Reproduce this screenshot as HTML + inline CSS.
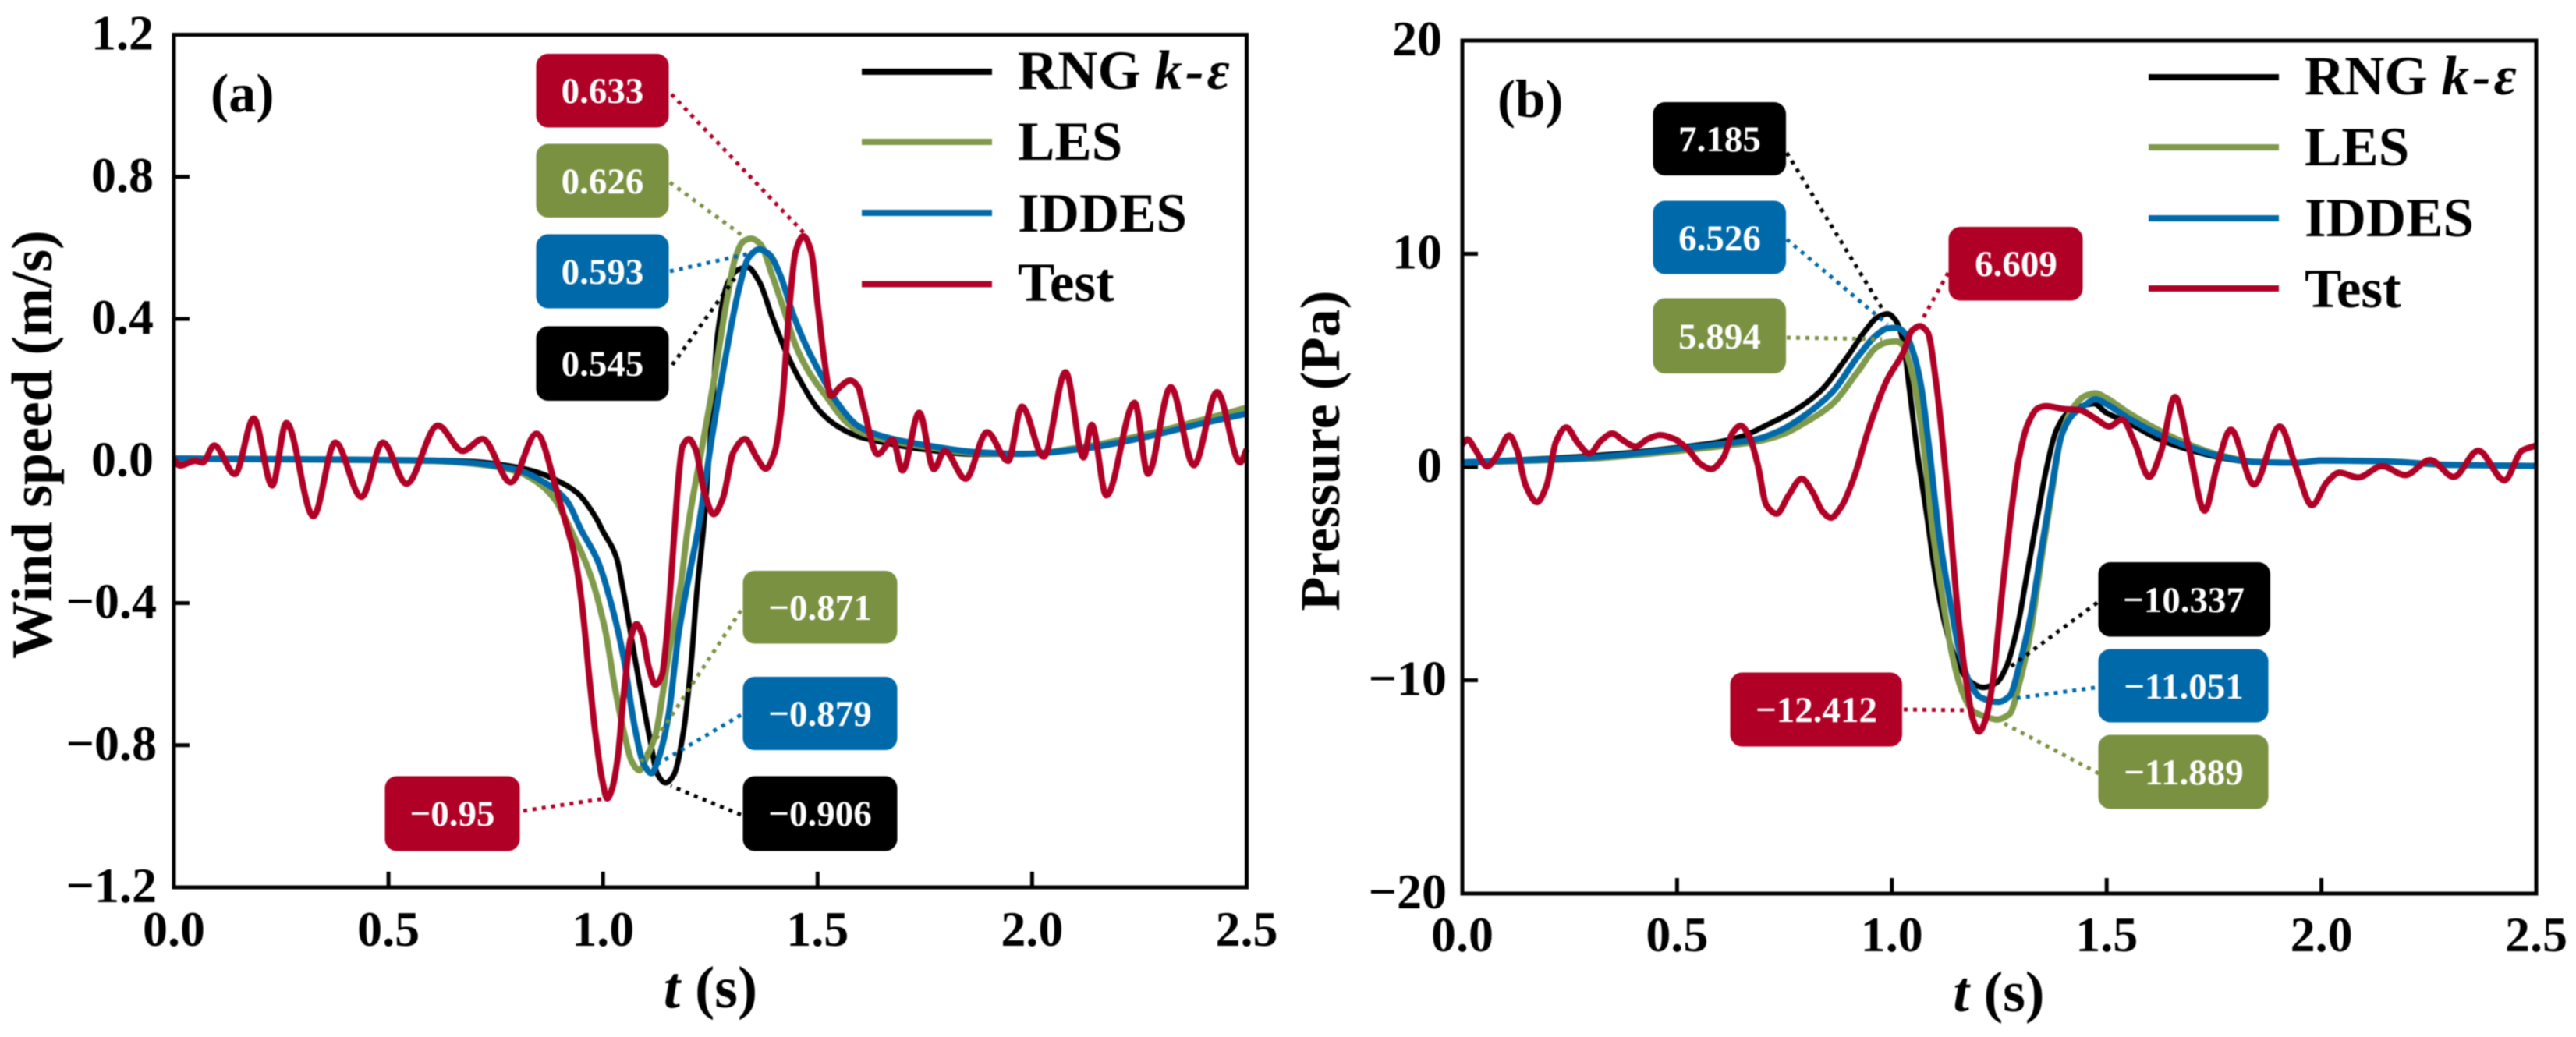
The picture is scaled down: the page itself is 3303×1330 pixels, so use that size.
<!DOCTYPE html>
<html lang="en">
<head>
<meta charset="utf-8">
<title>Wind speed and pressure time histories</title>
<style>
html,body{margin:0;padding:0;background:#fff;}
svg{display:block;filter:blur(0.8px);}
text{font-family:"Liberation Serif","DejaVu Serif",serif;font-weight:bold;fill:#000;}
.ann{font-size:47px;fill:#fff;text-anchor:middle;}
.lead{fill:none;stroke-width:5;stroke-dasharray:5 7;}
.leg{font-size:71px;}
.black{fill:#000;stroke:#000;}
.green{fill:#7b9142;stroke:#7b9142;}
.blue{fill:#0069aa;stroke:#0069aa;}
.red{fill:#b10026;stroke:#b10026;}
</style>
</head>
<body>
<svg id="fig" width="3303" height="1330" viewBox="0 0 3303 1330" xmlns="http://www.w3.org/2000/svg">
<rect width="3303" height="1330" fill="#fff"/>
<g id="panelA"></g>
<g id="panelB"></g>

<!-- panel a overlay -->
<g>
<text x="270" y="143" font-size="70">(a)</text>
<text transform="translate(66,570) rotate(-90)" text-anchor="middle" font-size="74">Wind speed (m/s)</text>
<text x="911" y="1292" text-anchor="middle" font-size="76"><tspan font-style="italic">t</tspan> (s)</text>

<g>
<line x1="1105" x2="1272" y1="92" y2="92" stroke="#000" stroke-width="8"/>
<text class="leg" x="1305" y="114">RNG <tspan font-style="italic" letter-spacing="4">k-ε</tspan></text>
<line x1="1105" x2="1272" y1="182" y2="182" stroke="#7f9a4a" stroke-width="8"/>
<text class="leg" x="1305" y="205">LES</text>
<line x1="1105" x2="1272" y1="273" y2="273" stroke="#0069aa" stroke-width="8"/>
<text class="leg" x="1305" y="297">IDDES</text>
<line x1="1105" x2="1272" y1="364.5" y2="364.5" stroke="#b10026" stroke-width="8"/>
<text class="leg" x="1305" y="386">Test</text>
</g>

<line class="lead red" x1="861" y1="121" x2="1030" y2="298"/>
<line class="lead green" x1="859" y1="234" x2="953" y2="303"/>
<line class="lead blue" x1="859" y1="348" x2="962" y2="325"/>
<line class="lead black" x1="862" y1="468" x2="942" y2="357"/>
<line class="lead green" x1="950" y1="783" x2="822" y2="977"/>
<line class="lead blue" x1="950" y1="917" x2="843" y2="980"/>
<line class="lead black" x1="950" y1="1045" x2="860" y2="1008"/>
<line class="lead red" x1="671" y1="1040" x2="776" y2="1024"/>

<g><rect class="red" x="688" y="69.5" width="169" height="93.5" rx="15"/><text class="ann" x="772.5" y="132">0.633</text></g>
<g><rect class="green" x="688" y="185" width="169" height="93.5" rx="15"/><text class="ann" x="772.5" y="248">0.626</text></g>
<g><rect class="blue" x="688" y="301" width="169" height="94" rx="15"/><text class="ann" x="772.5" y="364">0.593</text></g>
<g><rect class="black" x="688" y="419" width="169" height="94.5" rx="15"/><text class="ann" x="772.5" y="482">0.545</text></g>
<g><rect class="green" x="953" y="732.5" width="197" height="92.5" rx="15"/><text class="ann" x="1051.5" y="795">−0.871</text></g>
<g><rect class="blue" x="953" y="868.5" width="197" height="93" rx="15"/><text class="ann" x="1051.5" y="931">−0.879</text></g>
<g><rect class="black" x="953" y="996" width="197" height="95" rx="15"/><text class="ann" x="1051.5" y="1059">−0.906</text></g>
<g><rect class="red" x="494" y="996" width="172" height="95" rx="15"/><text class="ann" x="580" y="1059">−0.95</text></g>
</g>

<!-- panel b overlay -->
<g>
<text x="1920" y="150" font-size="69">(b)</text>
<text transform="translate(1717,578) rotate(-90)" text-anchor="middle" font-size="72">Pressure (Pa)</text>
<text x="2563" y="1297" text-anchor="middle" font-size="74"><tspan font-style="italic">t</tspan> (s)</text>

<g>
<line x1="2755" x2="2922" y1="99" y2="99" stroke="#000" stroke-width="8"/>
<text class="leg" x="2955" y="121">RNG <tspan font-style="italic" letter-spacing="4">k-ε</tspan></text>
<line x1="2755" x2="2922" y1="189" y2="189" stroke="#7f9a4a" stroke-width="8"/>
<text class="leg" x="2955" y="212">LES</text>
<line x1="2755" x2="2922" y1="280" y2="280" stroke="#0069aa" stroke-width="8"/>
<text class="leg" x="2955" y="303">IDDES</text>
<line x1="2755" x2="2922" y1="370" y2="370" stroke="#b10026" stroke-width="8"/>
<text class="leg" x="2955" y="394">Test</text>
</g>

<line class="lead black" x1="2291" y1="196" x2="2414" y2="397"/>
<line class="lead blue" x1="2291" y1="307" x2="2420" y2="416"/>
<line class="lead green" x1="2291" y1="433" x2="2413" y2="435"/>
<line class="lead red" x1="2498" y1="350" x2="2463" y2="413"/>
<line class="lead black" x1="2689" y1="773" x2="2578" y2="855"/>
<line class="lead blue" x1="2686" y1="882" x2="2581" y2="896"/>
<line class="lead green" x1="2691" y1="992" x2="2570" y2="928"/>
<line class="lead red" x1="2441" y1="910" x2="2524" y2="911"/>

<g><rect class="black" x="2120" y="131.5" width="169.5" height="93" rx="15"/><text class="ann" x="2205" y="194">7.185</text></g>
<g><rect class="blue" x="2120" y="258" width="169.5" height="93" rx="15"/><text class="ann" x="2205" y="321">6.526</text></g>
<g><rect class="green" x="2120" y="383" width="169.5" height="95.5" rx="15"/><text class="ann" x="2205" y="447">5.894</text></g>
<g><rect class="red" x="2499" y="291.5" width="171" height="93.5" rx="15"/><text class="ann" x="2585" y="354">6.609</text></g>
<g><rect class="black" x="2691" y="721.5" width="219.5" height="94.5" rx="15"/><text class="ann" x="2800" y="785">−10.337</text></g>
<g><rect class="blue" x="2691" y="833" width="217" height="93" rx="15"/><text class="ann" x="2800" y="896">−11.051</text></g>
<g><rect class="green" x="2691" y="943" width="217" height="94" rx="15"/><text class="ann" x="2800" y="1006">−11.889</text></g>
<g><rect class="red" x="2219" y="863" width="219.5" height="94" rx="15"/><text class="ann" x="2329" y="926">−12.412</text></g>
</g>
</svg>

<script>
// ---------- shared axis values ----------
var xTickValues = [0, 0.5, 1, 1.5, 2, 2.5];
var xTickLabels = ["0.0", "0.5", "1.0", "1.5", "2.0", "2.5"];

// ---------- panel (a) axis values ----------
var speedTickValues = [1.2, 0.8, 0.4, 0, -0.4, -0.8, -1.2];
var speedTickLabels = ["1.2", "0.8", "0.4", "0.0", "−0.4", "−0.8", "−1.2"];

// ---------- panel (a) series: wind speed ----------
var rngTimeA = [0,0.3,0.6,0.7,0.8,0.85,0.893,0.94,0.986,0.998,1.031,1.049,1.073,1.109,1.127,1.146,1.164,1.188,1.206,1.218,1.234,1.252,1.267,1.291,1.313,1.336,1.364,1.394,1.425,1.461,1.504,1.546,1.595,1.624,1.745,1.866,1.976,2.116,2.255,2.394,2.5];
var rngSpeedA = [0.008,0.005,0.002,-0.002,-0.018,-0.033,-0.055,-0.09,-0.165,-0.194,-0.271,-0.377,-0.546,-0.78,-0.882,-0.906,-0.886,-0.758,-0.56,-0.377,-0.19,0.098,0.355,0.502,0.537,0.546,0.505,0.406,0.311,0.223,0.142,0.098,0.069,0.06,0.033,0.019,0.019,0.033,0.065,0.106,0.144];

var lesTimeA = [0,0.3,0.6,0.7,0.8,0.847,0.889,0.907,0.925,0.97,1.007,1.027,1.049,1.067,1.085,1.1,1.122,1.152,1.182,1.197,1.231,1.261,1.285,1.309,1.327,1.345,1.367,1.394,1.425,1.449,1.479,1.522,1.564,1.595,1.65,1.75,1.87,1.98,2.12,2.255,2.394,2.5];
var lesSpeedA = [0.006,0.004,0,-0.008,-0.03,-0.06,-0.11,-0.15,-0.194,-0.319,-0.487,-0.633,-0.765,-0.846,-0.871,-0.838,-0.772,-0.552,-0.341,-0.194,0.04,0.245,0.428,0.574,0.618,0.626,0.61,0.523,0.413,0.325,0.252,0.179,0.113,0.084,0.062,0.04,0.022,0.02,0.04,0.072,0.115,0.15];

var iddesTimeA = [0,0.3,0.6,0.7,0.8,0.867,0.916,0.949,0.988,1.025,1.049,1.073,1.095,1.113,1.127,1.152,1.176,1.2,1.222,1.255,1.285,1.316,1.34,1.364,1.388,1.413,1.443,1.473,1.51,1.546,1.595,1.65,1.75,1.87,1.98,2.12,2.255,2.394,2.5];
var iddesSpeedA = [0.007,0.005,0.001,-0.006,-0.025,-0.063,-0.113,-0.194,-0.282,-0.429,-0.56,-0.743,-0.853,-0.879,-0.846,-0.721,-0.487,-0.326,-0.19,0.076,0.289,0.48,0.574,0.596,0.581,0.523,0.413,0.325,0.238,0.164,0.098,0.07,0.045,0.025,0.02,0.035,0.065,0.105,0.133];

var testTimeA = [0,0.014,0.049,0.067,0.094,0.142,0.186,0.229,0.262,0.325,0.376,0.437,0.487,0.542,0.615,0.673,0.719,0.785,0.845,0.893,0.907,0.918,0.934,0.952,0.967,0.982,0.998,1.01,1.022,1.034,1.049,1.064,1.078,1.091,1.107,1.122,1.137,1.149,1.158,1.167,1.176,1.185,1.2,1.216,1.237,1.258,1.279,1.304,1.331,1.358,1.379,1.4,1.418,1.434,1.449,1.467,1.485,1.5,1.516,1.531,1.552,1.576,1.595,1.605,1.64,1.675,1.698,1.737,1.771,1.796,1.845,1.895,1.944,1.976,2.027,2.078,2.12,2.139,2.173,2.239,2.27,2.323,2.377,2.431,2.485,2.5];
var testSpeedA = [0.004,-0.013,0,-0.004,0.044,-0.037,0.12,-0.069,0.107,-0.155,0.052,-0.101,0.052,-0.064,0.1,0.028,0.062,-0.06,0.077,-0.087,-0.148,-0.194,-0.267,-0.414,-0.596,-0.765,-0.897,-0.95,-0.919,-0.838,-0.648,-0.502,-0.459,-0.487,-0.582,-0.63,-0.604,-0.487,-0.341,-0.19,-0.048,0.04,0.062,0.032,-0.092,-0.15,-0.106,0.025,0.062,0.01,-0.022,0.025,0.172,0.428,0.59,0.633,0.59,0.442,0.282,0.183,0.208,0.227,0.208,0.162,0.019,0.06,-0.027,0.136,-0.023,0.028,-0.05,0.081,0,0.153,0.012,0.25,0.01,0.102,-0.097,0.164,-0.036,0.208,-0.012,0.194,-0.004,0.033];

// ---------- panel (b) axis values ----------
var pressureTickValues = [20, 10, 0, -10, -20];
var pressureTickLabels = ["20", "10", "0", "−10", "−20"];

// ---------- panel (b) series: pressure ----------
var rngTimeB = [0,0.2,0.35,0.517,0.59,0.65,0.711,0.772,0.832,0.893,0.941,0.965,0.99,1.008,1.026,1.04,1.059,1.08,1.104,1.129,1.153,1.177,1.213,1.244,1.267,1.292,1.316,1.34,1.358,1.383,1.407,1.437,1.471,1.498,1.55,1.619,1.687,1.765,1.843,1.94,1.999,2.14,2.3,2.5];
var rngPressureB = [0.22,0.4,0.6,0.95,1.15,1.43,1.99,2.63,3.53,5.08,6.47,7.0,7.185,6.9,5.92,3.8,0.73,-2.07,-5.41,-7.81,-9.2,-9.97,-10.337,-10.11,-9.34,-7.53,-4.86,-2.19,-0.25,1.72,2.49,2.83,2.97,2.56,2.08,1.33,0.84,0.44,0.22,0.19,0.33,0.27,0.11,0.07];

var lesTimeB = [0,0.3,0.5,0.59,0.681,0.741,0.802,0.862,0.922,0.965,0.989,1.011,1.026,1.04,1.056,1.074,1.092,1.117,1.14,1.165,1.189,1.22,1.244,1.274,1.298,1.322,1.347,1.371,1.394,1.419,1.449,1.474,1.498,1.55,1.619,1.687,1.765,1.843,1.94,2,2.14,2.3,2.5];
var lesPressureB = [0.2,0.4,0.75,0.95,1.18,1.5,2.13,2.97,4.51,5.63,5.85,5.894,5.7,4.94,3.53,1.02,-2.49,-5.99,-8.78,-10.6,-11.44,-11.72,-11.84,-11.58,-10.04,-7.81,-4.45,-1.37,1.43,2.69,3.33,3.46,3.25,2.55,1.75,1.1,0.55,0.25,0.2,0.3,0.27,0.1,0.05];

var iddesTimeB = [0,0.3,0.5,0.59,0.681,0.741,0.802,0.862,0.922,0.965,0.989,1.011,1.031,1.05,1.068,1.086,1.11,1.135,1.159,1.183,1.207,1.247,1.274,1.298,1.322,1.347,1.371,1.394,1.419,1.449,1.474,1.498,1.55,1.619,1.687,1.765,1.843,1.94,2,2.14,2.3,2.5];
var iddesPressureB = [0.22,0.45,0.85,1.05,1.29,1.72,2.49,3.53,5.21,6.2,6.5,6.526,6.26,5.35,3.81,1.02,-3.18,-6.25,-8.78,-10.18,-10.81,-11.02,-10.74,-9.2,-7.09,-4.02,-1.09,1.43,2.41,2.9,3.18,2.97,2.3,1.55,0.98,0.5,0.24,0.2,0.3,0.27,0.1,0.05];

var testTimeB = [0,0.012,0.03,0.058,0.082,0.109,0.127,0.148,0.174,0.196,0.218,0.242,0.269,0.296,0.323,0.349,0.375,0.403,0.432,0.46,0.493,0.523,0.554,0.579,0.608,0.629,0.648,0.668,0.687,0.708,0.732,0.759,0.79,0.817,0.838,0.858,0.88,0.911,0.947,0.989,1.026,1.047,1.065,1.083,1.104,1.129,1.153,1.174,1.189,1.203,1.218,1.235,1.256,1.28,1.295,1.316,1.34,1.358,1.401,1.437,1.474,1.506,1.536,1.565,1.599,1.626,1.659,1.692,1.728,1.757,1.789,1.843,1.903,1.94,1.978,2.013,2.042,2.085,2.141,2.195,2.253,2.308,2.365,2.426,2.467,2.5];
var testPressureB = [1.06,1.3,0.82,0.03,0.58,1.49,0.82,-0.88,-1.65,-0.88,1.18,1.86,1.13,0.63,1.24,1.57,1.24,0.96,1.32,1.5,1.32,0.88,0.15,-0.1,0.45,1.6,1.94,1.43,0.18,-1.79,-2.19,-1.35,-0.55,-1.23,-2.07,-2.38,-1.93,-0.53,1.86,4.09,5.35,6.4,6.609,6.33,3.81,-1.09,-6.68,-10.18,-11.86,-12.412,-11.86,-10.04,-5.99,-1.79,0.31,1.99,2.76,2.86,2.72,2.67,2.27,1.9,2.23,1.17,-0.46,0.69,3.29,0.84,-2.05,0.04,1.75,-0.82,1.9,0.04,-1.79,-0.7,-0.26,-0.49,0.04,-0.38,0.33,-0.46,0.77,-0.62,0.77,1.01];

// ---------- helpers ----------
var SVGNS = "http://www.w3.org/2000/svg";

function linearScale(d0, d1, r0, r1) {
  return function (v) { return r0 + (v - d0) * (r1 - r0) / (d1 - d0); };
}

function monotonePath(px, py) {
  var n = px.length, i, dx = [], m = [], t = [];
  for (i = 0; i < n - 1; i++) {
    dx[i] = px[i + 1] - px[i];
    m[i] = (py[i + 1] - py[i]) / dx[i];
  }
  t[0] = m[0];
  t[n - 1] = m[n - 2];
  for (i = 1; i < n - 1; i++) {
    if (m[i - 1] * m[i] <= 0) {
      t[i] = 0;
    } else {
      var w1 = 2 * dx[i] + dx[i - 1], w2 = dx[i] + 2 * dx[i - 1];
      t[i] = (w1 + w2) / (w1 / m[i - 1] + w2 / m[i]);
    }
  }
  var d = "M" + px[0].toFixed(2) + " " + py[0].toFixed(2);
  for (i = 0; i < n - 1; i++) {
    var h = dx[i] / 3;
    d += "C" + (px[i] + h).toFixed(2) + " " + (py[i] + t[i] * h).toFixed(2) + " " +
         (px[i + 1] - h).toFixed(2) + " " + (py[i + 1] - t[i + 1] * h).toFixed(2) + " " +
         px[i + 1].toFixed(2) + " " + py[i + 1].toFixed(2);
  }
  return d;
}

function drawPanel(root, box, xVals, xLabels, yVals, yLabels, yMin, yMax, series, suffix) {
  var xScale = linearScale(0, 2.5, box.left, box.right);
  var yScale = linearScale(yMin, yMax, box.bottom, box.top);
  var i, el;

  for (i = 0; i < xVals.length; i++) {
    el = document.createElementNS(SVGNS, "line");
    el.setAttribute("x1", xScale(xVals[i]));
    el.setAttribute("x2", xScale(xVals[i]));
    el.setAttribute("y1", box.bottom);
    el.setAttribute("y2", box.bottom - 20);
    el.setAttribute("stroke", "#000");
    el.setAttribute("stroke-width", 5);
    
    
    root.appendChild(el);

    el = document.createElementNS(SVGNS, "text");
    el.setAttribute("x", xScale(xVals[i]));
    el.setAttribute("y", box.xLabelY);
    el.setAttribute("text-anchor", "middle");
    el.setAttribute("font-size", 64);
    el.textContent = xLabels[i];
    
    
    root.appendChild(el);
  }

  for (i = 0; i < yVals.length; i++) {
    el = document.createElementNS(SVGNS, "line");
    el.setAttribute("x1", box.left);
    el.setAttribute("x2", box.left + 20);
    el.setAttribute("y1", yScale(yVals[i]));
    el.setAttribute("y2", yScale(yVals[i]));
    el.setAttribute("stroke", "#000");
    el.setAttribute("stroke-width", 5);
    
    
    root.appendChild(el);

    el = document.createElementNS(SVGNS, "text");
    el.setAttribute("x", yVals[i] < 0 ? box.yLabelXNeg : box.yLabelX);
    el.setAttribute("y", yScale(yVals[i]) + 19);
    el.setAttribute("text-anchor", "end");
    el.setAttribute("font-size", 64);
    el.textContent = yLabels[i];
    
    
    root.appendChild(el);
  }

  for (i = 0; i < series.length; i++) {
    var s = series[i];
    var px = s.t.map(xScale);
    var py = s.v.map(yScale);
    el = document.createElementNS(SVGNS, "path");
    el.setAttribute("d", monotonePath(px, py));
    el.setAttribute("fill", "none");
    el.setAttribute("stroke", s.color);
    el.setAttribute("stroke-width", s.width);
    el.setAttribute("stroke-linejoin", "round");
    
    
    root.appendChild(el);
  }

  el = document.createElementNS(SVGNS, "rect");
  el.setAttribute("x", box.left);
  el.setAttribute("y", box.top);
  el.setAttribute("width", box.right - box.left);
  el.setAttribute("height", box.bottom - box.top);
  el.setAttribute("fill", "none");
  el.setAttribute("stroke", "#000");
  el.setAttribute("stroke-width", 5);
  
  
  root.appendChild(el);
}

drawPanel(
  document.getElementById("panelA"),
  { left: 223, right: 1598.5, top: 44.5, bottom: 1138, xLabelY: 1213, yLabelX: 197, yLabelXNeg: 201 },
  xTickValues, xTickLabels, speedTickValues, speedTickLabels, -1.2, 1.2,
  [
    { name: "rng", t: rngTimeA, v: rngSpeedA, color: "#000000", width: 7 },
    { name: "les", t: lesTimeA, v: lesSpeedA, color: "#7f9a4a", width: 8 },
    { name: "iddes", t: iddesTimeA, v: iddesSpeedA, color: "#0069aa", width: 8 },
    { name: "test", t: testTimeA, v: testSpeedA, color: "#b10026", width: 8 }
  ],
  "a"
);

drawPanel(
  document.getElementById("panelB"),
  { left: 1875, right: 3252, top: 52, bottom: 1146, xLabelY: 1220, yLabelX: 1849, yLabelXNeg: 1855 },
  xTickValues, xTickLabels, pressureTickValues, pressureTickLabels, -20, 20,
  [
    { name: "rng", t: rngTimeB, v: rngPressureB, color: "#000000", width: 7 },
    { name: "les", t: lesTimeB, v: lesPressureB, color: "#7f9a4a", width: 8 },
    { name: "iddes", t: iddesTimeB, v: iddesPressureB, color: "#0069aa", width: 8 },
    { name: "test", t: testTimeB, v: testPressureB, color: "#b10026", width: 8 }
  ],
  "b"
);
</script>
</body>
</html>
